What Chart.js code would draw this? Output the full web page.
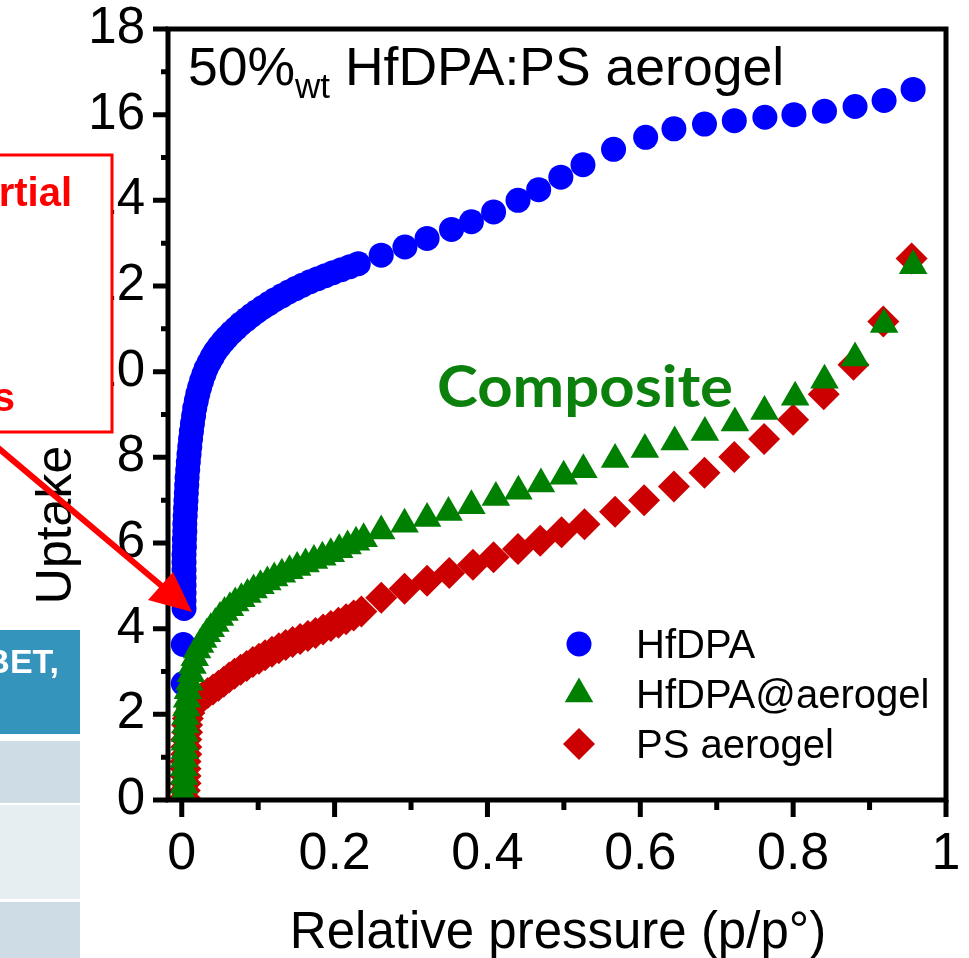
<!DOCTYPE html>
<html>
<head>
<meta charset="utf-8">
<script src="https://cdn.jsdelivr.net/npm/chart.js@4/dist/chart.umd.min.js"></script>
<style>
  html, body { margin: 0; padding: 0; background: #fff; }
  #wrap { position: relative; width: 969px; height: 958px; }
</style>
</head>
<body>
<div id="wrap"><canvas id="c"></canvas></div>
<script>
// ====== Data ======
// HfDPA (blue circles)
const hfdpaP = [0.002, 0.002, 0.003, 0.003, 0.003, 0.003, 0.003, 0.003, 0.003, 0.003, 0.0035, 0.0035, 0.004, 0.004,
  0.0045, 0.005, 0.0055, 0.006, 0.0065, 0.007, 0.0078, 0.0086, 0.0095, 0.0105, 0.0115, 0.0127, 0.014, 0.0155, 0.017,
  0.019, 0.021, 0.0235, 0.026, 0.029, 0.032, 0.036, 0.040, 0.044, 0.049, 0.054, 0.059, 0.065, 0.071, 0.077, 0.084,
  0.091, 0.098, 0.106, 0.114, 0.122, 0.131, 0.140, 0.149, 0.158, 0.168, 0.178, 0.188, 0.198, 0.209, 0.220, 0.231,
  0.261, 0.292, 0.321, 0.353, 0.379, 0.408, 0.440, 0.467, 0.496, 0.525, 0.565, 0.607, 0.644, 0.684, 0.723, 0.763,
  0.801, 0.841, 0.881, 0.919, 0.957];
const hfdpaU = [2.72, 3.63, 4.47, 4.65, 4.83, 5.01, 5.19, 5.37, 5.55, 5.73, 5.91, 6.09, 6.27, 6.45,
  6.63, 6.81, 6.99, 7.17, 7.35, 7.53, 7.71, 7.89, 8.07, 8.25, 8.43, 8.61, 8.79, 8.97, 9.15,
  9.32, 9.48, 9.64, 9.79, 9.94, 10.08, 10.22, 10.35, 10.47, 10.59, 10.70, 10.80, 10.91, 11.01, 11.11, 11.21,
  11.31, 11.40, 11.50, 11.59, 11.68, 11.77, 11.86, 11.94, 12.02, 12.10, 12.17, 12.24, 12.31, 12.38, 12.45, 12.52,
  12.72, 12.91, 13.11, 13.32, 13.50, 13.73, 14.00, 14.25, 14.54, 14.83, 15.19, 15.47, 15.67, 15.78, 15.86, 15.94,
  16.00, 16.08, 16.19, 16.33, 16.59];

// HfDPA@aerogel (green triangles)
const compP = [0.002, 0.003, 0.003, 0.003, 0.003, 0.004, 0.004, 0.004, 0.005, 0.005, 0.006, 0.007, 0.008, 0.010,
  0.012, 0.014, 0.017, 0.020, 0.024, 0.028, 0.033, 0.038, 0.044, 0.050, 0.056, 0.063, 0.070, 0.078, 0.086, 0.094,
  0.103, 0.112, 0.121, 0.131, 0.141, 0.151, 0.162, 0.173, 0.184, 0.195, 0.206, 0.217, 0.228, 0.238,
  0.261, 0.2915, 0.321, 0.349, 0.379, 0.411, 0.4405, 0.470, 0.4997, 0.5255, 0.567, 0.606, 0.645, 0.6845, 0.7238,
  0.7625, 0.8026, 0.841, 0.881, 0.919, 0.957];
const compU = [0.15, 0.35, 0.55, 0.75, 0.95, 1.15, 1.35, 1.55, 1.75, 1.95, 2.15, 2.35, 2.55, 2.75,
  2.95, 3.14, 3.32, 3.50, 3.63, 3.75, 3.88, 4.00, 4.12, 4.26, 4.38, 4.49, 4.60, 4.70, 4.80, 4.90,
  5.00, 5.09, 5.18, 5.27, 5.35, 5.43, 5.51, 5.59, 5.67, 5.75, 5.84, 5.93, 6.02, 6.10,
  6.28, 6.44, 6.57, 6.71, 6.87, 7.06, 7.21, 7.38, 7.56, 7.71, 7.95, 8.18, 8.36, 8.58, 8.80,
  9.07, 9.40, 9.80, 10.32, 11.10, 12.47];

// PS aerogel (red diamonds)
const psP = [0.004, 0.004, 0.005, 0.005, 0.005, 0.005, 0.006, 0.006, 0.006, 0.007, 0.007, 0.008, 0.010, 0.013,
  0.017, 0.022, 0.028, 0.034, 0.041, 0.048, 0.055, 0.062, 0.069, 0.077, 0.085, 0.093, 0.101, 0.109, 0.118, 0.127,
  0.136, 0.145, 0.155, 0.165, 0.175, 0.185, 0.195, 0.205, 0.215, 0.225, 0.235,
  0.261, 0.2915, 0.321, 0.350, 0.381, 0.408, 0.440, 0.469, 0.497, 0.527, 0.567, 0.605, 0.644, 0.684, 0.723,
  0.762, 0.800, 0.840, 0.879, 0.918, 0.955];
const psU = [0.05, 0.22, 0.39, 0.56, 0.73, 0.90, 1.07, 1.24, 1.41, 1.58, 1.75, 1.90, 2.03, 2.14,
  2.24, 2.33, 2.42, 2.50, 2.58, 2.67, 2.76, 2.86, 2.95, 3.04, 3.13, 3.22, 3.30, 3.38, 3.46, 3.54,
  3.62, 3.69, 3.76, 3.83, 3.90, 3.98, 4.06, 4.14, 4.22, 4.31, 4.40,
  4.72, 4.93, 5.12, 5.30, 5.49, 5.67, 5.86, 6.05, 6.25, 6.44, 6.73, 7.00, 7.32, 7.64, 8.01,
  8.43, 8.88, 9.47, 10.16, 11.17, 12.64];

// axis ticks
const xTicks  = [0, 0.2, 0.4, 0.6, 0.8, 1];
const xLabels = ['0', '0.2', '0.4', '0.6', '0.8', '1'];
const xMinor  = [0.1, 0.3, 0.5, 0.7, 0.9];
const yTicks  = [0, 2, 4, 6, 8, 10, 12, 14, 16, 18];
const yLabels = ['0', '2', '4', '6', '8', '10', '12', '14', '16', '18'];
const yMinor  = [1, 3, 5, 7, 9, 11, 13, 15, 17];

const seriesNames = ['HfDPA', 'HfDPA@aerogel', 'PS aerogel'];

// ====== Styles ======
const FONT = "'Liberation Sans', Arial, sans-serif";
const BLUE = '#0000ff', GREEN = '#008000', RED = '#cc0000';

const pts = (xs, ys) => xs.map((x, i) => ({ x, y: ys[i] }));
// keep chart.js from widening the margins for the tick labels
const noPad = s => { s.paddingTop = 0; s.paddingBottom = 0; s.paddingLeft = 0; s.paddingRight = 0; };

// ====== Decorations: frame, ticks, texts, legend, overlays ======
const decor = {
  id: 'decor',
  afterDraw(chart) {
    const { ctx, chartArea: a, scales: { x, y } } = chart;
    ctx.save();

    // frame
    ctx.strokeStyle = '#000';
    ctx.lineWidth = 5;
    ctx.strokeRect(a.left, a.top, a.right - a.left, a.bottom - a.top);

    // tick marks (outside)
    ctx.beginPath();
    xTicks.forEach(v => { const px = x.getPixelForValue(v); ctx.moveTo(px, a.bottom); ctx.lineTo(px, a.bottom + 17); });
    xMinor.forEach(v => { const px = x.getPixelForValue(v); ctx.moveTo(px, a.bottom); ctx.lineTo(px, a.bottom + 10); });
    yTicks.forEach(v => { const py = y.getPixelForValue(v); ctx.moveTo(a.left, py); ctx.lineTo(a.left - 15, py); });
    yMinor.forEach(v => { const py = y.getPixelForValue(v); ctx.moveTo(a.left, py); ctx.lineTo(a.left - 7, py); });
    ctx.stroke();

    // axis titles
    ctx.fillStyle = '#000';
    ctx.font = `51px ${FONT}`;
    ctx.textAlign = 'center';
    ctx.textBaseline = 'alphabetic';
    ctx.fillText('Relative pressure (p/p°)', 558, 948);
    ctx.save();
    ctx.translate(71, 525);
    ctx.rotate(-Math.PI / 2);
    ctx.font = `50px ${FONT}`;
    ctx.fillText('Uptake', 0, 0);
    ctx.restore();

    // panel title 50%wt HfDPA:PS aerogel
    ctx.textAlign = 'left';
    let tx = 188;
    ctx.font = `53.5px ${FONT}`;
    ctx.fillText('50%', tx, 85);
    tx += ctx.measureText('50%').width;
    ctx.font = `35px ${FONT}`;
    ctx.fillText('wt', tx, 98);
    tx += ctx.measureText('wt').width;
    ctx.font = `53.5px ${FONT}`;
    ctx.fillText(' HfDPA:PS aerogel', tx, 85);

    // "Composite" label
    ctx.fillStyle = '#0c800c';
    ctx.font = `bold 58px Lato, 'Open Sans', sans-serif`;
    const cw = ctx.measureText('Composite').width;
    ctx.save();
    ctx.translate(437, 407);
    ctx.scale(296 / cw, 1);
    ctx.fillText('Composite', 0, 0);
    ctx.restore();

    // legend
    const legY = [644, 694, 744];
    const legStyle = [
      { pointStyle: 'circle', radius: 12.5, color: BLUE },
      { pointStyle: 'triangle', radius: 16.5, color: GREEN },
      { pointStyle: 'rectRot', radius: 16, color: RED }
    ];
    legStyle.forEach((s, i) => {
      ctx.fillStyle = s.color;
      ctx.strokeStyle = s.color;
      Chart.helpers.drawPoint(ctx, { pointStyle: s.pointStyle, radius: s.radius, rotation: 0, borderWidth: 0 }, 579, legY[i]);
    });
    ctx.fillStyle = '#000';
    ctx.font = `40px ${FONT}`;
    seriesNames.forEach((n, i) => ctx.fillText(n, 636, legY[i] + 14));

    // red call-out box (cropped at the left edge)
    ctx.fillStyle = '#fff';
    ctx.fillRect(-5, 155, 118, 277);
    ctx.strokeStyle = '#ff0000';
    ctx.lineWidth = 3;
    ctx.strokeRect(-5, 155, 117, 277);
    ctx.fillStyle = '#ff0000';
    ctx.font = `bold 40px ${FONT}`;
    ctx.textAlign = 'right';
    ctx.fillText('rtial', 72, 206);
    ctx.fillText('s', 15, 411);

    // arrow
    ctx.strokeStyle = '#ff0000';
    ctx.lineWidth = 6;
    ctx.beginPath();
    ctx.moveTo(-3, 447);
    ctx.lineTo(163, 587);
    ctx.stroke();
    ctx.beginPath();
    ctx.moveTo(192, 612);
    ctx.lineTo(148, 600);
    ctx.lineTo(173, 572);
    ctx.closePath();
    ctx.fill();

    // table fragment (bottom left)
    ctx.fillStyle = '#3594bb';
    ctx.fillRect(0, 630, 80, 104);
    ctx.fillStyle = '#cedce6';
    ctx.fillRect(0, 741, 80, 62);
    ctx.fillStyle = '#e6eef2';
    ctx.fillRect(0, 805, 80, 94);
    ctx.fillStyle = '#cedce6';
    ctx.fillRect(0, 902, 80, 56);
    ctx.fillStyle = '#fff';
    ctx.font = `bold 34px ${FONT}`;
    ctx.textAlign = 'right';
    ctx.fillText('BET,', 59, 673);

    ctx.restore();
  }
};

// ====== Chart ======
const chart = new Chart(document.getElementById('c'), {
  type: 'scatter',
  data: {
    datasets: [
      { label: seriesNames[0], data: pts(hfdpaP, hfdpaU), pointStyle: 'circle', pointRadius: 12.5,
        backgroundColor: BLUE, borderColor: BLUE, borderWidth: 0, order: 3, clip: 0 },
      { label: seriesNames[1], data: pts(compP, compU), pointStyle: 'triangle', pointRadius: 16.5,
        backgroundColor: GREEN, borderColor: GREEN, borderWidth: 0, order: 1, clip: 0 },
      { label: seriesNames[2], data: pts(psP, psU), pointStyle: 'rectRot', pointRadius: 16,
        backgroundColor: RED, borderColor: RED, borderWidth: 0, order: 2, clip: 0 }
    ]
  },
  options: {
    responsive: true,
    maintainAspectRatio: false,
    animation: false,
    events: [],
    layout: { autoPadding: false, padding: { left: 0, top: 29, right: 23, bottom: 0 } },
    plugins: { legend: { display: false }, tooltip: { enabled: false } },
    scales: {
      x: {
        type: 'linear', min: -0.018, max: 1,
        grid: { display: false, drawTicks: false },
        border: { display: false },
        afterBuildTicks: s => { s.ticks = xTicks.map(v => ({ value: v })); },
        afterFit: s => { s.height = 158; noPad(s); },
        ticks: {
          autoSkip: false, maxRotation: 0, minRotation: 0, padding: 29, color: '#000',
          font: { family: FONT, size: 52, lineHeight: 1 },
          callback: (v, i) => xLabels[i]
        }
      },
      y: {
        type: 'linear', min: 0, max: 18,
        grid: { display: false, drawTicks: false },
        border: { display: false },
        afterBuildTicks: s => { s.ticks = yTicks.map(v => ({ value: v })); },
        afterFit: s => { s.width = 168; noPad(s); },
        ticks: {
          autoSkip: false, padding: 23, color: '#000',
          font: { family: FONT, size: 51, lineHeight: 1 },
          callback: (v, i) => yLabels[i]
        }
      }
    }
  },
  plugins: [decor]
});
</script>
</body>
</html>
